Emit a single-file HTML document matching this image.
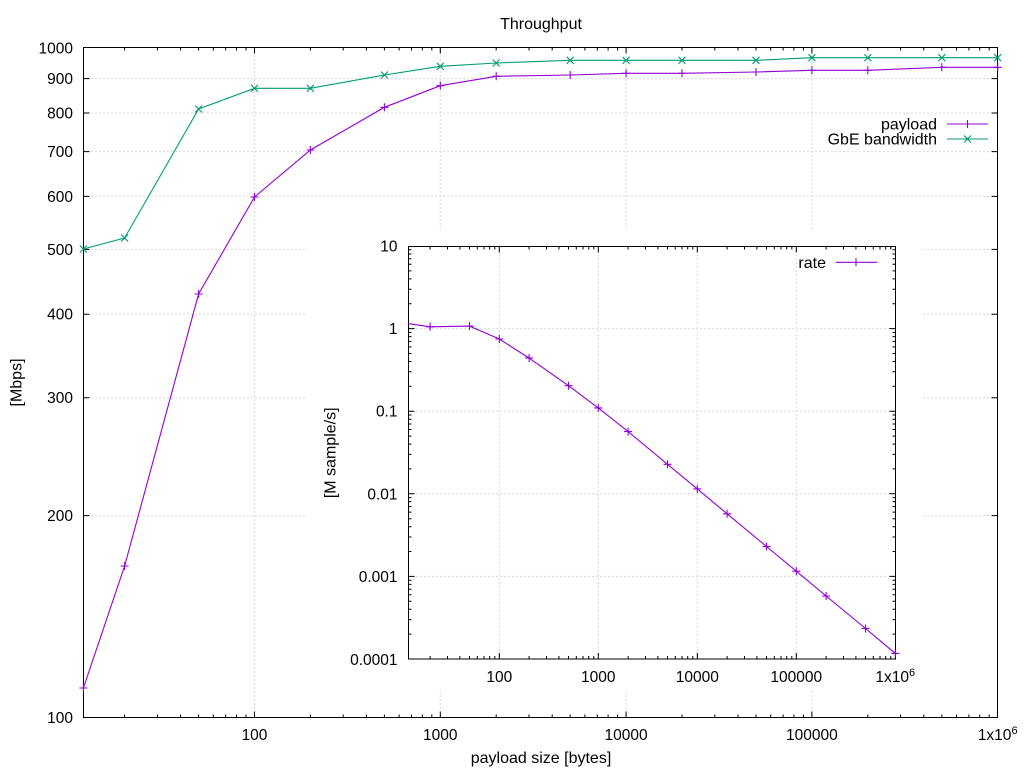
<!DOCTYPE html>
<html><head><meta charset="utf-8"><style>
html,body{margin:0;padding:0;background:#fff;}
svg{display:block;}
text{font-family:"Liberation Sans",Arial,Helvetica,sans-serif;fill:#000;}
</style></head><body>
<svg width="1024" height="768" viewBox="0 0 1024 768" xmlns="http://www.w3.org/2000/svg">
<rect x="0" y="0" width="1024" height="768" fill="#fff"/>
<!-- MAIN PLOT grid -->
<g stroke="#b4b4b4" stroke-width="1" stroke-dasharray="1,3" fill="none">
<path d="M83.5,515.6H997.5M83.5,397.8H997.5M83.5,314.2H997.5M83.5,249.4H997.5M83.5,196.4H997.5M83.5,151.6H997.5M83.5,113H997.5M83.5,78.6H997.5"/>
<path d="M254.5,47.5V717.5M440.3,47.5V717.5M626.1,47.5V717.5M811.9,47.5V717.5"/>
</g>
<!-- main ticks -->
<g stroke="#000" stroke-width="1" fill="none">
<path d="M83.5,515.6h6M83.5,397.8h6M83.5,314.2h6M83.5,249.4h6M83.5,196.4h6M83.5,151.6h6M83.5,113h6M83.5,78.6h6
M997.5,515.6h-6M997.5,397.8h-6M997.5,314.2h-6M997.5,249.4h-6M997.5,196.4h-6M997.5,151.6h-6M997.5,113h-6M997.5,78.6h-6"/>
<path d="M254.5,717.5v-6M440.3,717.5v-6M626.1,717.5v-6M811.9,717.5v-6M254.5,47.5v6M440.3,47.5v6M626.1,47.5v6M811.9,47.5v6"/>
<path d="M124.6,717.5v-3M157.4,717.5v-3M180.6,717.5v-3M198.6,717.5v-3M213.3,717.5v-3M225.7,717.5v-3M236.5,717.5v-3M246,717.5v-3
M310.4,717.5v-3M343.2,717.5v-3M366.4,717.5v-3M384.4,717.5v-3M399.1,717.5v-3M411.5,717.5v-3M422.3,717.5v-3M431.8,717.5v-3
M496.2,717.5v-3M529,717.5v-3M552.2,717.5v-3M570.2,717.5v-3M584.9,717.5v-3M597.3,717.5v-3M608.1,717.5v-3M617.6,717.5v-3
M682,717.5v-3M714.8,717.5v-3M738,717.5v-3M756,717.5v-3M770.7,717.5v-3M783.1,717.5v-3M793.9,717.5v-3M803.4,717.5v-3
M867.8,717.5v-3M900.6,717.5v-3M923.8,717.5v-3M941.8,717.5v-3M956.5,717.5v-3M968.9,717.5v-3M979.7,717.5v-3M989.2,717.5v-3"/>
<path d="M124.6,47.5v3M157.4,47.5v3M180.6,47.5v3M198.6,47.5v3M213.3,47.5v3M225.7,47.5v3M236.5,47.5v3M246,47.5v3
M310.4,47.5v3M343.2,47.5v3M366.4,47.5v3M384.4,47.5v3M399.1,47.5v3M411.5,47.5v3M422.3,47.5v3M431.8,47.5v3
M496.2,47.5v3M529,47.5v3M552.2,47.5v3M570.2,47.5v3M584.9,47.5v3M597.3,47.5v3M608.1,47.5v3M617.6,47.5v3
M682,47.5v3M714.8,47.5v3M738,47.5v3M756,47.5v3M770.7,47.5v3M783.1,47.5v3M793.9,47.5v3M803.4,47.5v3
M867.8,47.5v3M900.6,47.5v3M923.8,47.5v3M941.8,47.5v3M956.5,47.5v3M968.9,47.5v3M979.7,47.5v3M989.2,47.5v3"/>
</g>
<rect x="83.5" y="47.5" width="914" height="670" fill="none" stroke="#000" stroke-width="1"/>
<!-- main data -->
<polyline fill="none" stroke="#9400d3" stroke-width="1.1" points="83.4,688 124.6,566 198.6,294 254.5,197 310.4,150 384.4,107.3 440.3,85.7 496.2,76.3 570.2,75 626.1,73.3 682,73.3 756,72 811.9,70.3 867.8,70.3 941.8,67.3 997.7,67.3"/>
<polyline fill="none" stroke="#009e73" stroke-width="1.1" points="83.4,249 124.6,238 198.6,109 254.5,88.3 310.4,88.3 384.4,75 440.3,66.3 496.2,63 570.2,60.3 626.1,60.3 682,60.3 756,60.3 811.9,57.7 867.8,57.7 941.8,57.7 997.7,57.7"/>
<path fill="none" stroke="#9400d3" stroke-width="1.1" d="M79.4,688h8M83.4,684v8 M120.6,566h8M124.6,562v8 M194.6,294h8M198.6,290v8 M250.5,197h8M254.5,193v8 M306.4,150h8M310.4,146v8 M380.4,107.3h8M384.4,103.3v8 M436.3,85.7h8M440.3,81.7v8 M492.2,76.3h8M496.2,72.3v8 M566.2,75h8M570.2,71v8 M622.1,73.3h8M626.1,69.3v8 M678,73.3h8M682,69.3v8 M752,72h8M756,68v8 M807.9,70.3h8M811.9,66.3v8 M863.8,70.3h8M867.8,66.3v8 M937.8,67.3h8M941.8,63.3v8 M993.7,67.3h8M997.7,63.3v8"/>
<path fill="none" stroke="#009e73" stroke-width="1.1" d="M79.9,245.5l7,7M79.9,252.5l7,-7 M121.1,234.5l7,7M121.1,241.5l7,-7 M195.1,105.5l7,7M195.1,112.5l7,-7 M251,84.8l7,7M251,91.8l7,-7 M306.9,84.8l7,7M306.9,91.8l7,-7 M380.9,71.5l7,7M380.9,78.5l7,-7 M436.8,62.8l7,7M436.8,69.8l7,-7 M492.7,59.5l7,7M492.7,66.5l7,-7 M566.7,56.8l7,7M566.7,63.8l7,-7 M622.6,56.8l7,7M622.6,63.8l7,-7 M678.5,56.8l7,7M678.5,63.8l7,-7 M752.5,56.8l7,7M752.5,63.8l7,-7 M808.4,54.2l7,7M808.4,61.2l7,-7 M864.3,54.2l7,7M864.3,61.2l7,-7 M938.3,54.2l7,7M938.3,61.2l7,-7 M994.2,54.2l7,7M994.2,61.2l7,-7"/>
<!-- main legend -->
<text x="937" y="129.5" font-size="16" text-anchor="end">payload</text>
<text x="937" y="144.5" font-size="16" text-anchor="end">GbE bandwidth</text>
<path fill="none" stroke="#9400d3" stroke-width="1.1" d="M947,124h41M967.5,120v8"/>
<path fill="none" stroke="#009e73" stroke-width="1.1" d="M947,139h41M964,135.5l7,7M964,142.5l7,-7"/>
<!-- main labels -->
<text x="541" y="29" font-size="16" text-anchor="middle">Throughput</text>
<g font-size="15.5" text-anchor="end">
<text x="73" y="723">100</text>
<text x="73" y="521">200</text>
<text x="73" y="403">300</text>
<text x="73" y="319.5">400</text>
<text x="73" y="255">500</text>
<text x="73" y="202">600</text>
<text x="73" y="157">700</text>
<text x="73" y="118.5">800</text>
<text x="73" y="84">900</text>
<text x="73" y="53.5">1000</text>
</g>
<g font-size="15.5" text-anchor="middle">
<text x="254.5" y="740">100</text>
<text x="440.3" y="740">1000</text>
<text x="626.1" y="740">10000</text>
<text x="811.9" y="740">100000</text>
<text x="997.7" y="740">1x10<tspan font-size="11" dy="-6">6</tspan></text>
</g>
<text x="541" y="763" font-size="16" text-anchor="middle">payload size [bytes]</text>
<text transform="translate(21.5,382.5) rotate(-90)" font-size="16" text-anchor="middle">[Mbps]</text>

<!-- INSET -->
<rect x="307" y="230" width="614" height="461" fill="#fff"/>
<g stroke="#b4b4b4" stroke-width="1" stroke-dasharray="1,3" fill="none">
<path d="M408.5,328.6H895.5M408.5,411.2H895.5M408.5,493.8H895.5M408.5,576.4H895.5"/>
<path d="M499.3,246.5V659M598.3,246.5V659M697.3,246.5V659M796.3,246.5V659"/>
</g>
<g stroke="#000" stroke-width="1" fill="none">
<path d="M408.5,328.6h6M408.5,411.2h6M408.5,493.8h6M408.5,576.4h6M895.5,328.6h-6M895.5,411.2h-6M895.5,493.8h-6M895.5,576.4h-6"/>
<path d="M499.3,659v-6M598.3,659v-6M697.3,659v-6M796.3,659v-6M499.3,246.5v6M598.3,246.5v6M697.3,246.5v6M796.3,246.5v6"/>
<path d="M430.1,659v-3M447.5,659v-3M459.9,659v-3M469.5,659v-3M477.3,659v-3M484,659v-3M489.7,659v-3M494.8,659v-3
M529.1,659v-3M546.5,659v-3M558.9,659v-3M568.5,659v-3M576.3,659v-3M583,659v-3M588.7,659v-3M593.8,659v-3
M628.1,659v-3M645.5,659v-3M657.9,659v-3M667.5,659v-3M675.3,659v-3M682,659v-3M687.7,659v-3M692.8,659v-3
M727.1,659v-3M744.5,659v-3M756.9,659v-3M766.5,659v-3M774.3,659v-3M781,659v-3M786.7,659v-3M791.8,659v-3
M826.1,659v-3M843.5,659v-3M855.9,659v-3M865.5,659v-3M873.3,659v-3M880,659v-3M885.7,659v-3M890.8,659v-3"/>
<path d="M430.1,246.5v3M447.5,246.5v3M459.9,246.5v3M469.5,246.5v3M477.3,246.5v3M484,246.5v3M489.7,246.5v3M494.8,246.5v3
M529.1,246.5v3M546.5,246.5v3M558.9,246.5v3M568.5,246.5v3M576.3,246.5v3M583,246.5v3M588.7,246.5v3M593.8,246.5v3
M628.1,246.5v3M645.5,246.5v3M657.9,246.5v3M667.5,246.5v3M675.3,246.5v3M682,246.5v3M687.7,246.5v3M692.8,246.5v3
M727.1,246.5v3M744.5,246.5v3M756.9,246.5v3M766.5,246.5v3M774.3,246.5v3M781,246.5v3M786.7,246.5v3M791.8,246.5v3
M826.1,246.5v3M843.5,246.5v3M855.9,246.5v3M865.5,246.5v3M873.3,246.5v3M880,246.5v3M885.7,246.5v3M890.8,246.5v3"/>
<path d="M408.5,634.1h3M408.5,619.6h3M408.5,609.3h3M408.5,601.3h3M408.5,594.7h3M408.5,589.2h3M408.5,584.4h3M408.5,580.2h3
M408.5,551.5h3M408.5,537h3M408.5,526.7h3M408.5,518.7h3M408.5,512.1h3M408.5,506.6h3M408.5,501.8h3M408.5,497.6h3
M408.5,468.9h3M408.5,454.4h3M408.5,444.1h3M408.5,436.1h3M408.5,429.5h3M408.5,424h3M408.5,419.2h3M408.5,415h3
M408.5,386.3h3M408.5,371.8h3M408.5,361.5h3M408.5,353.5h3M408.5,346.9h3M408.5,341.4h3M408.5,336.6h3M408.5,332.4h3
M408.5,303.7h3M408.5,289.2h3M408.5,278.9h3M408.5,270.9h3M408.5,264.3h3M408.5,258.8h3M408.5,254h3M408.5,249.8h3"/>
<path d="M895.5,634.1h-3M895.5,619.6h-3M895.5,609.3h-3M895.5,601.3h-3M895.5,594.7h-3M895.5,589.2h-3M895.5,584.4h-3M895.5,580.2h-3
M895.5,551.5h-3M895.5,537h-3M895.5,526.7h-3M895.5,518.7h-3M895.5,512.1h-3M895.5,506.6h-3M895.5,501.8h-3M895.5,497.6h-3
M895.5,468.9h-3M895.5,454.4h-3M895.5,444.1h-3M895.5,436.1h-3M895.5,429.5h-3M895.5,424h-3M895.5,419.2h-3M895.5,415h-3
M895.5,386.3h-3M895.5,371.8h-3M895.5,361.5h-3M895.5,353.5h-3M895.5,346.9h-3M895.5,341.4h-3M895.5,336.6h-3M895.5,332.4h-3
M895.5,303.7h-3M895.5,289.2h-3M895.5,278.9h-3M895.5,270.9h-3M895.5,264.3h-3M895.5,258.8h-3M895.5,254h-3M895.5,249.8h-3"/>
</g>
<rect x="408.5" y="246.5" width="487" height="412.5" fill="none" stroke="#000" stroke-width="1"/>
<polyline fill="none" stroke="#9400d3" stroke-width="1.1" points="408.1,323.6 430.1,326.8 469.5,326.1 499.3,339 529.1,358.1 568.5,385.7 598.3,407.9 628.1,431.6 667.5,464.3 697.3,488.9 727.1,513.8 766.5,546.5 796.3,571.2 826.1,596 865.5,628.5 895.3,653.4"/>
<path fill="none" stroke="#9400d3" stroke-width="1.1" d="M426.1,326.8h8M430.1,322.8v8 M465.5,326.1h8M469.5,322.1v8 M495.3,339h8M499.3,335v8 M525.1,358.1h8M529.1,354.1v8 M564.5,385.7h8M568.5,381.7v8 M594.3,407.9h8M598.3,403.9v8 M624.1,431.6h8M628.1,427.6v8 M663.5,464.3h8M667.5,460.3v8 M693.3,488.9h8M697.3,484.9v8 M723.1,513.8h8M727.1,509.8v8 M762.5,546.5h8M766.5,542.5v8 M792.3,571.2h8M796.3,567.2v8 M822.1,596h8M826.1,592v8 M861.5,628.5h8M865.5,624.5v8 M891.3,653.4h8M895.3,649.4v8"/>
<text x="826" y="268" font-size="16" text-anchor="end">rate</text>
<path fill="none" stroke="#9400d3" stroke-width="1.1" d="M835.7,262.3h41.6M856,258.3v8"/>
<g font-size="15.5" text-anchor="end">
<text x="397.5" y="251.5">10</text>
<text x="397.5" y="334">1</text>
<text x="397.5" y="416.7">0.1</text>
<text x="397.5" y="499.3">0.01</text>
<text x="397.5" y="582">0.001</text>
<text x="397.5" y="665">0.0001</text>
</g>
<g font-size="15.5" text-anchor="middle">
<text x="499.3" y="682">100</text>
<text x="598.3" y="682">1000</text>
<text x="697.3" y="682">10000</text>
<text x="796.3" y="682">100000</text>
<text x="895.3" y="682">1x10<tspan font-size="11" dy="-6">6</tspan></text>
</g>
<text transform="translate(335.5,452.8) rotate(-90)" font-size="16" text-anchor="middle">[M sample/s]</text>
</svg>
</body></html>
